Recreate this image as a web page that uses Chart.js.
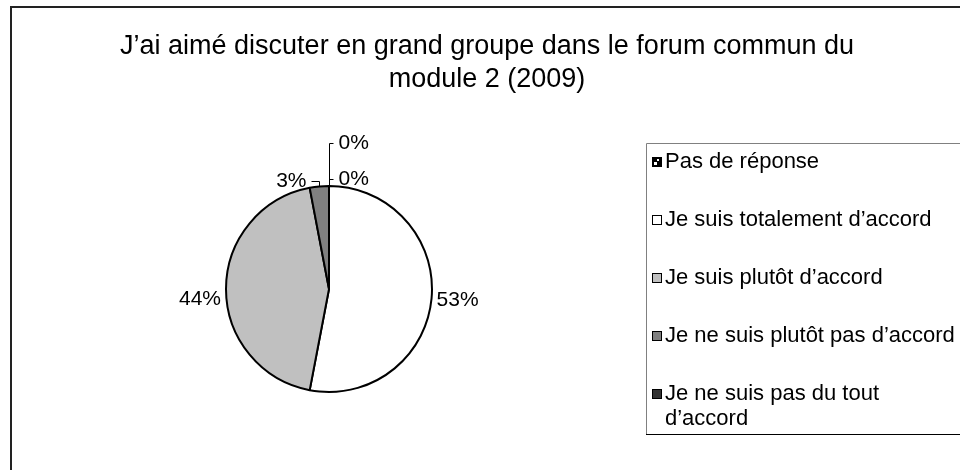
<!DOCTYPE html>
<html>
<head>
<meta charset="utf-8">
<script src="https://cdn.jsdelivr.net/npm/chart.js@4.4.0/dist/chart.umd.min.js"></script>
<style>
  html, body { margin: 0; padding: 0; background: #fff; }
  canvas { display: block; }
</style>
</head>
<body>
<canvas id="pie" width="960" height="470"></canvas>
<script>
// Chart data ---------------------------------------------------------------
const titleLines = ['J’ai aimé discuter en grand groupe dans le forum commun du', 'module 2 (2009)'];
const categories = [
  'Pas de réponse',
  'Je suis totalement d’accord',
  'Je suis plutôt d’accord',
  'Je ne suis plutôt pas d’accord',
  ['Je ne suis pas du tout', 'd’accord'],
];
const percentages = [0, 53, 44, 3, 0];

// Styles -------------------------------------------------------------------
const sliceColours = ['#000000', '#ffffff', '#c0c0c0', '#808080', '#333333'];
const FONT = '"Liberation Sans", Arial, sans-serif';

// where each percentage label sits, relative to the middle of its slice rim
// rise/run: elbow leader line (small slices), gap/dy: plain offset
const labelPlacement = [
  { rise: 43, run: 4, side: 1, gap: 5 },
  { gap: 5, dy: 1 },
  { gap: 5, dy: 10 },
  { rise: 5, run: 8, side: -1, gap: 5 },
  { rise: 7, run: 4, side: 1, gap: 5 },
];

// Custom drawing: frame, title, legend, labels ------------------------------
const decorPlugin = {
  id: 'decor',
  beforeDraw(chart) {
    const ctx = chart.ctx;
    ctx.save();
    ctx.fillStyle = '#fff';
    ctx.fillRect(0, 0, chart.width, chart.height);
    ctx.restore();
  },
  afterDraw(chart) {
    const ctx = chart.ctx;
    ctx.save();

    // outer frame (runs off the right and bottom edges)
    ctx.strokeStyle = '#222';
    ctx.lineWidth = 2;
    ctx.strokeRect(11, 7, 980, 500);

    // title
    ctx.fillStyle = '#000';
    ctx.font = '27px ' + FONT;
    ctx.textAlign = 'center';
    ctx.textBaseline = 'middle';
    titleLines.forEach((line, i) => ctx.fillText(line, 487, 47 + i * 33));

    // legend box
    ctx.lineWidth = 1;
    ctx.strokeStyle = '#808080';
    ctx.beginPath();
    ctx.moveTo(980, 143.5);
    ctx.lineTo(646.5, 143.5);
    ctx.lineTo(646.5, 434);
    ctx.stroke();
    ctx.strokeStyle = '#000';
    ctx.beginPath();
    ctx.moveTo(646, 434.5);
    ctx.lineTo(980, 434.5);
    ctx.stroke();

    ctx.font = '22px ' + FONT;
    ctx.textAlign = 'left';
    categories.forEach((label, i) => {
      const y = 162 + i * 58;
      // marker
      ctx.fillStyle = sliceColours[i];
      ctx.fillRect(652.5, y - 4.5, 9, 9);
      if (i === 0) {
        ctx.fillStyle = '#fff';
        ctx.fillRect(654, y, 3, 3);
        ctx.fillRect(657, y - 3, 2, 2);
      }
      ctx.strokeStyle = '#000';
      ctx.strokeRect(652.5, y - 4.5, 9, 9);
      ctx.fillStyle = '#000';
      const lines = Array.isArray(label) ? label : [label];
      lines.forEach((l, j) => ctx.fillText(l, 665, y + j * 25));
    });

    // percentage labels
    ctx.font = '21px ' + FONT;
    const meta = chart.getDatasetMeta(0);
    ctx.lineWidth = 1;
    ctx.strokeStyle = '#000';
    meta.data.forEach((arc, i) => {
      const { x, y, startAngle, endAngle, outerRadius } =
        arc.getProps(['x', 'y', 'startAngle', 'endAngle', 'outerRadius'], true);
      const mid = (startAngle + endAngle) / 2;
      const px = x + Math.cos(mid) * outerRadius;
      const py = y + Math.sin(mid) * outerRadius;
      const p = labelPlacement[i];
      const text = percentages[i] + '%';
      if (p.rise) {
        const ex = Math.round(px) + 0.5;
        const ey = Math.round(py - p.rise) + 0.5;
        ctx.beginPath();
        ctx.moveTo(ex, py);
        ctx.lineTo(ex, ey);
        ctx.lineTo(ex + p.side * p.run, ey);
        ctx.stroke();
        ctx.textAlign = p.side > 0 ? 'left' : 'right';
        ctx.fillText(text, ex + p.side * (p.run + p.gap), ey);
      } else {
        ctx.textAlign = Math.cos(mid) >= 0 ? 'left' : 'right';
        ctx.fillText(text, px + Math.cos(mid) * p.gap, py + Math.sin(mid) * p.gap + (p.dy || 0));
      }
    });

    ctx.restore();
  },
};

// Chart --------------------------------------------------------------------
window.addEventListener('DOMContentLoaded', () => {
  const ctx = document.getElementById('pie').getContext('2d');
  new Chart(ctx, {
    type: 'pie',
    data: {
      labels: categories,
      datasets: [{
        data: percentages,
        backgroundColor: sliceColours,
        borderColor: '#000',
        borderWidth: 2,
      }],
    },
    options: {
      responsive: false,
      animation: false,
      devicePixelRatio: 1,
      layout: { padding: { left: 225, right: 527, top: 185, bottom: 77 } },
      plugins: {
        legend: { display: false },
        title: { display: false },
        tooltip: { enabled: false },
      },
    },
    plugins: [decorPlugin],
  });
});
</script>
</body>
</html>
